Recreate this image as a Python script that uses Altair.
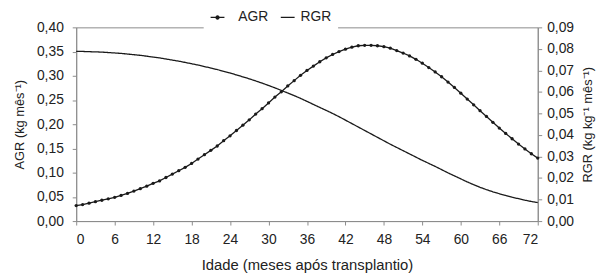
import altair as alt
import pandas as pd

months = list(range(0, 73))

agr = [0.032, 0.034, 0.037, 0.040, 0.043, 0.046, 0.049, 0.053, 0.057, 0.062,
       0.067, 0.072, 0.078, 0.083, 0.090, 0.097, 0.104, 0.111, 0.119, 0.128,
       0.137, 0.146, 0.155, 0.166, 0.176, 0.187, 0.198, 0.209, 0.221, 0.232,
       0.244, 0.256, 0.267, 0.279, 0.290, 0.301, 0.311, 0.320, 0.329, 0.337,
       0.344, 0.350, 0.355, 0.359, 0.362, 0.363,
       0.363, 0.362, 0.360, 0.357, 0.352, 0.347, 0.341, 0.334, 0.326, 0.317,
       0.308, 0.298, 0.287, 0.276, 0.264, 0.252, 0.240, 0.228, 0.216, 0.204,
       0.192, 0.181, 0.170, 0.159, 0.149, 0.139, 0.130]

rgr = [0.0788, 0.0788, 0.0787, 0.0786, 0.0785, 0.0783, 0.0781, 0.0779, 0.0776, 0.0773,
       0.0770, 0.0766, 0.0762, 0.0758, 0.0753, 0.0748, 0.0743, 0.0737, 0.0731, 0.0725,
       0.0718, 0.0711, 0.0704, 0.0696, 0.0688, 0.0679, 0.0670, 0.0661, 0.0651, 0.0641,
       0.0630, 0.0619, 0.0607, 0.0595, 0.0583, 0.0570, 0.0556, 0.0542, 0.0528, 0.0514,
       0.0500, 0.0485, 0.0469, 0.0453, 0.0437, 0.0421, 0.0405, 0.0389, 0.0373, 0.0357,
       0.0342, 0.0327, 0.0312, 0.0297, 0.0282, 0.0268, 0.0254, 0.0239, 0.0224, 0.0210,
       0.0196, 0.0182, 0.0169, 0.0157, 0.0146, 0.0136, 0.0127, 0.0119, 0.0111, 0.0104,
       0.0097, 0.0091, 0.0086]

x_ticks = list(range(0, 73, 6))
agr_ticks = [0.0, 0.05, 0.10, 0.15, 0.20, 0.25, 0.30, 0.35, 0.40]
rgr_ticks = [0.0, 0.01, 0.02, 0.03, 0.04, 0.05, 0.06, 0.07, 0.08, 0.09]

df = pd.DataFrame({"t": months, "AGR": agr, "RGR": rgr})

FONT = "Liberation Sans"
INK = "#1a1a1a"
GRAY = "#8c8c8c"
label_expr = "replace(format(datum.value, '.2f'), '.', ',')"

x_enc = alt.X("t:Q", scale=alt.Scale(domain=[0, 72], nice=False),
              axis=alt.Axis(values=x_ticks, title="Idade (meses após transplantio)",
                            labelFontSize=14, titleFontSize=15, labelPadding=8,
                            titlePadding=11, tickSize=4, grid=False))

base = alt.Chart(df)

agr_line = base.transform_calculate(s="'AGR'").mark_line(
    color=INK, strokeWidth=1.3,
    point=alt.OverlayMarkDef(filled=True, size=11, color=INK)).encode(
    x=x_enc,
    y=alt.Y("AGR:Q", scale=alt.Scale(domain=[0, 0.4], nice=False),
            axis=alt.Axis(values=agr_ticks, labelExpr=label_expr, title="AGR (kg mês⁻¹)",
                          orient="left", labelFontSize=14, titleFontSize=13,
                          tickSize=4, labelPadding=9, titlePadding=10, grid=False)),
    color=alt.Color("s:N",
                    scale=alt.Scale(domain=["AGR"], range=[INK]),
                    legend=alt.Legend(orient="none", legendX=129, legendY=-24,
                                      direction="horizontal", title=None,
                                      fillColor="white", padding=6,
                                      symbolType="M-1,0L1,0M0.22,0A0.22,0.22,0,1,1,-0.22,0A0.22,0.22,0,1,1,0.22,0Z",
                                      symbolSize=196, symbolFillColor=INK,
                                      symbolStrokeColor=INK, symbolStrokeWidth=1.3,
                                      labelFontSize=14, labelOffset=13,
                                      labelColor="#222")),
)

rgr_line = base.transform_calculate(r="'RGR'").mark_line(color=INK, strokeWidth=1.3).encode(
    x=x_enc,
    y=alt.Y("RGR:Q", scale=alt.Scale(domain=[0, 0.09], nice=False),
            axis=alt.Axis(values=rgr_ticks, labelExpr=label_expr,
                          title="RGR (kg kg⁻¹ mês⁻¹)", orient="right",
                          titleAngle=270, titleBaseline="top",
                          labelFontSize=14, titleFontSize=13, tickSize=4,
                          labelPadding=5, titlePadding=8, grid=False)),
    strokeDash=alt.StrokeDash("r:N",
                              scale=alt.Scale(domain=["RGR"], range=[[1, 0]]),
                              legend=alt.Legend(orient="none", legendX=200, legendY=-24,
                                                direction="horizontal", title=None,
                                                fillColor="white", padding=6,
                                                symbolType="stroke", symbolSize=196,
                                                symbolStrokeColor=INK,
                                                symbolStrokeWidth=1.3,
                                                labelFontSize=14, labelOffset=5,
                                                labelColor="#222")),
)

chart = alt.layer(agr_line, rgr_line).resolve_scale(
    y="independent", color="independent", strokeDash="independent"
).properties(
    width=467, height=196,
    autosize=alt.AutoSizeParams(type="none"),
    padding={"left": 69, "top": 18, "right": 64, "bottom": 55},
).configure_view(
    stroke=GRAY, strokeWidth=1
).configure_axis(
    domainColor=GRAY, tickColor=GRAY, labelColor="#222", titleColor="#222",
    labelFont=FONT, titleFont=FONT, titleFontWeight="normal"
).configure_legend(
    labelFont=FONT
)

chart.save("out.html", embed_options={"renderer": "svg", "actions": False})
